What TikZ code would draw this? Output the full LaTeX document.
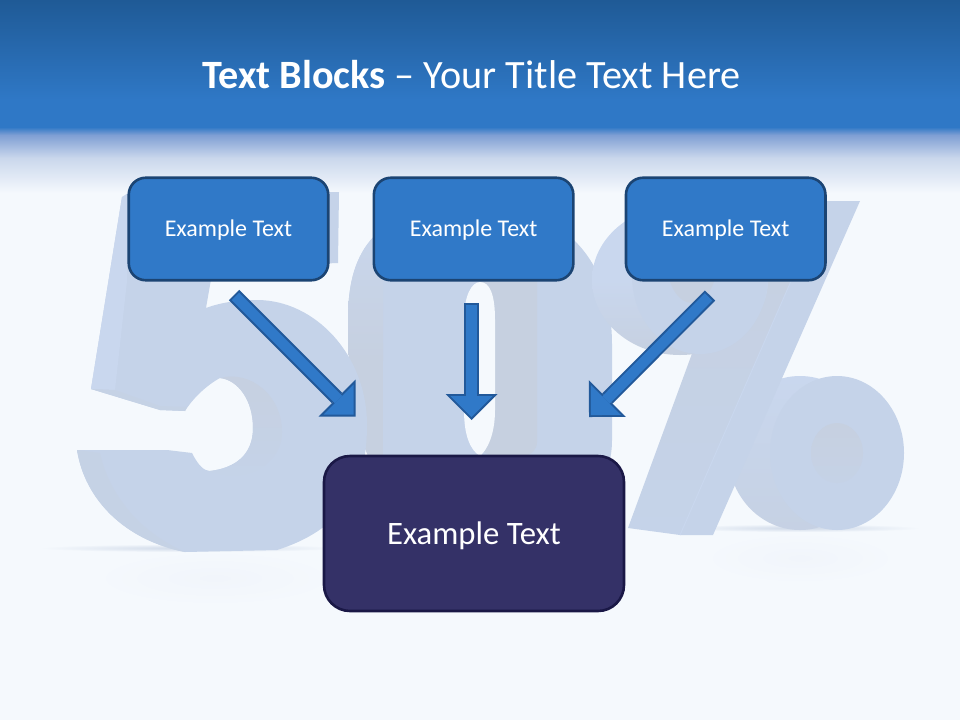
\documentclass[tikz,border=0pt]{standalone}
\usepackage{fontspec}
\setmainfont{Carlito}
\usepackage{tikz}
\usetikzlibrary{arrows.meta,positioning}
\definecolor{pagebg}{HTML}{F5F9FD}
\definecolor{headtop}{HTML}{1F5A96}
\definecolor{headblue}{HTML}{2F78C6}
\definecolor{fadeblue}{HTML}{7F9FD4}
\definecolor{fadepale}{HTML}{CAD7EC}
\definecolor{blockblue}{HTML}{3079C8}
\definecolor{blockedge}{HTML}{1B4473}
\definecolor{arrowedge}{HTML}{22599A}
\definecolor{bigfill}{HTML}{343167}
\definecolor{bigedge}{HTML}{1A1846}
\definecolor{numface}{HTML}{C5D3E9}
\definecolor{numlight}{HTML}{C9D7EE}
\definecolor{numgrey}{HTML}{C6D0E0}
\definecolor{numshadow}{HTML}{CFD9E8}
\definecolor{numglow}{HTML}{F1F5FB}

\begin{document}
\begin{tikzpicture}[x=1pt,y=-1pt,
block/.style={draw=blockedge,line width=2.6pt,fill=blockblue,rounded corners=17pt,
  minimum width=199.5pt,minimum height=102.5pt,outer sep=1.3pt,text depth=1.5pt,text=white,font=\fontsize{24}{28}\selectfont},
bigblock/.style={draw=bigedge,line width=2.6pt,fill=bigfill,rounded corners=26pt,
  minimum width=300pt,minimum height=155pt,text depth=0pt,text=white,font=\fontsize{32.7}{38}\selectfont},
boxarrow/.style={preaction={draw=arrowedge,line width=14.5pt,shorten >=0pt,shorten <=0pt,
    -{Triangle[width=52pt,length=26pt,line width=0pt]}},
  draw=blockblue,line width=10.5pt,shorten >=2.8pt,shorten <=2pt,
  -{Triangle[width=42.4pt,length=21.2pt,line width=0pt]}}]
\useasboundingbox (0,0) rectangle (960,720);
\fill[pagebg] (0,0) rectangle (960,720);
\shade[top color=headtop,bottom color=headblue] (0,0) rectangle (960,100);
\fill[headblue] (0,100) rectangle (960,127);
\shade[top color=headblue,bottom color=fadeblue] (0,127) rectangle (960,135);
\shade[top color=fadeblue,bottom color=fadepale] (0,135) rectangle (960,158);
\shade[top color=fadepale,bottom color=pagebg] (0,158) rectangle (960,193);

\shade[inner color=numglow,outer color=pagebg] (215,578) ellipse (125 and 28);
\shade[inner color=numglow,outer color=pagebg] (800,558) ellipse (100 and 26);
\shade[inner color=numshadow,outer color=pagebg] (190,548) ellipse (150 and 4);
\shade[inner color=numshadow,outer color=pagebg] (800,528) ellipse (120 and 4);

\begin{scope}
\clip (348,320) .. controls (348,270) and (360,205) .. (470,205)
  .. controls (575,205) and (612,270) .. (612,345) -- (612,440)
  .. controls (612,480) and (590,520) .. (480,520)
  .. controls (370,520) and (348,440) .. cycle;
\fill[numface] (340,200) rectangle (620,530);
\shade[top color=numlight,bottom color=numgrey] (340,200) rectangle (383,360);
\fill[numgrey] (340,360) rectangle (383,530);
\fill[numgrey,rounded corners=14pt] (480,262) rectangle (537,456);
\end{scope}
\fill[pagebg] (464,320) .. controls (464,295) and (472,282) .. (480,282)
  .. controls (490,282) and (495,295) .. (495,320) -- (495,410)
  .. controls (495,435) and (487,450) .. (480,456)
  .. controls (470,450) and (464,435) .. (464,410) -- cycle;

\shade[top color=numlight,bottom color=numface!40!numgrey] (800,453) ellipse (72 and 77);
\fill[numface] (837,453) ellipse (67 and 77);
\shade[top color=numgrey,bottom color=numface!70!numgrey] (837,453) ellipse (26 and 30);

\fill[numface] (800,201) -- (860,201) -- (713,535) -- (680,535) -- cycle;
\shade[top color=numgrey,bottom color=numface] (748,201) -- (826,201) -- (680,535) -- (628,528) -- cycle;
\draw[numlight,line width=1pt] (680,535) -- (826,201);

\shade[top color=numlight,bottom color=numgrey,middle color=numlight] (680,280) ellipse (88 and 75);
\fill[numface] (700,276) ellipse (68 and 78);
\fill[numgrey] (692,262) ellipse (25 and 41);

\fill[numface] (122,197) -- (140,192) -- (339,192) -- (338,263) -- (213,268) -- (206,308)
  .. controls (222,302) and (240,300) .. (257,300)
  .. controls (315,300) and (367,355) .. (367,425)
  .. controls (367,490) and (340,530) .. (277,550)
  -- (185,552) .. controls (125,540) and (85,500) .. (77,450)
  -- (167,450) -- (192,453) .. controls (198,465) and (204,471) .. (210,471)
  .. controls (235,468) and (253,455) .. (253,428)
  .. controls (253,400) and (238,380) .. (220,378)
  .. controls (207,385) and (193,398) .. (185,411)
  -- (160,410) -- (91,389) -- cycle;
\fill[numlight] (122,197) -- (128,193) -- (127,281) -- (115,390) -- (91,389) -- cycle;
\fill[numface!60!numgrey] (91,389) -- (115,390) -- (160,406) -- (187,407) -- (185,411) -- (160,410) -- cycle;
\fill[numface!60!numgrey] (77,450) -- (100,453) .. controls (108,490) and (135,530) .. (185,552)
  .. controls (125,540) and (85,500) .. cycle;
\shade[top color=numgrey,bottom color=numface] (220,378) .. controls (250,370) and (282,395) .. (282,432)
  .. controls (282,465) and (245,485) .. (210,471)
  .. controls (235,468) and (253,455) .. (253,428)
  .. controls (253,400) and (238,380) .. cycle;

\node (title) at (471.5,75) [text=white,font=\fontsize{40.2}{46}\selectfont] {\textbf{Text Blocks} – Your Title Text Here};
\node[block] (left) at (228.5,229) {Example Text};
\node[block] (middle) [right = 43pt of left] {Example Text};
\node[block] (right) [right = 50pt of middle] {Example Text};
\node[bigblock] (bottom) at (474,533.5) {Example Text};

\coordinate (lefttail) at (234,295);
\coordinate (lefttip) at (355.5,416.5);
\coordinate (midtail) at (471.5,303);
\coordinate (midtip) at (471.5,420);
\coordinate (righttail) at (710,295.5);
\coordinate (righttip) at (589,417);
\path
(lefttail) edge [boxarrow] (lefttip)
(midtail) edge [boxarrow] (midtip)
(righttail) edge [boxarrow] (righttip)
;
\end{tikzpicture}
\end{document}
